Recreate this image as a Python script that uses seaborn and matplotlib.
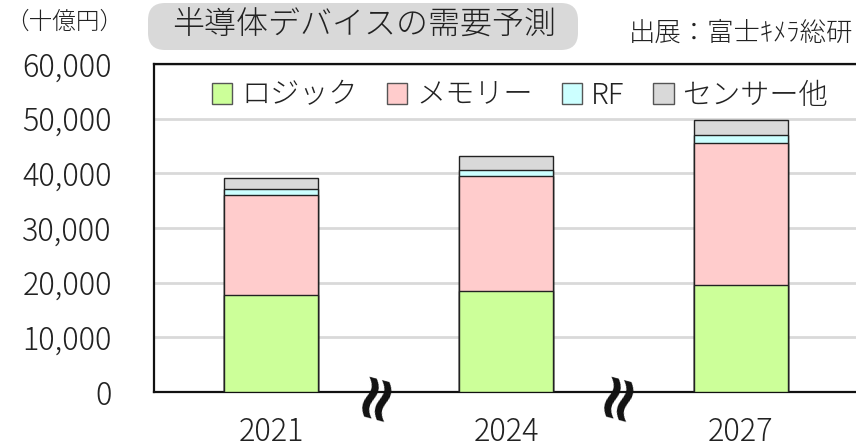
import matplotlib
matplotlib.use("Agg")
import matplotlib.pyplot as plt
from matplotlib.patches import Patch, FancyBboxPatch
import seaborn as sns
import pandas as pd
import numpy as np

years = ["2021", "2024", "2027"]
logic = [17800, 18500, 19600]
memory = [18300, 21000, 25900]
rf = [1050, 1150, 1450]
sensor = [2050, 2500, 2800]
series_names = ["ロジック", "メモリー", "RF", "センサー他"]
colors = ["#ccff99", "#ffcccc", "#ccffff", "#d9d9d9"]
yticks = [0, 10000, 20000, 30000, 40000, 50000, 60000]

sns.set_theme(style="white")
plt.rcParams['font.family'] = ['Noto Sans CJK JP', 'DejaVu Sans']
plt.rcParams['font.weight'] = 'light'

fig = plt.figure(figsize=(8.56, 4.48), dpi=100)
ax = fig.add_axes([153.5/856, 56/448, 705/856, 328/448])

layers = [logic, memory, rf, sensor]
cum = np.cumsum(np.array(layers), axis=0)
df = pd.DataFrame({"year": years})
for i in range(len(layers) - 1, -1, -1):
    df["v"] = cum[i]
    sns.barplot(data=df, x="year", y="v", color=colors[i], saturation=1,
                width=0.4, edgecolor="#222222", linewidth=1.0, ax=ax, zorder=3)

ax.set_xlim(-0.5, 2.5)
ax.set_ylim(0, 60000)
ax.set_yticks(yticks)
ax.set_yticklabels([f"{v:,}" for v in yticks])
ax.set_xlabel("")
ax.set_ylabel("")
ax.yaxis.grid(True, color="#d9d9d9", linewidth=2, zorder=0)
ax.set_axisbelow(True)
ax.tick_params(axis="y", length=0, pad=30, labelsize=22, colors="#222222")
ax.tick_params(axis="x", length=0, pad=17, labelsize=22, colors="#222222")
for s in ["left", "top", "bottom"]:
    ax.spines[s].set_color("#111111")
    ax.spines[s].set_linewidth(1.6)
ax.spines["right"].set_visible(False)

handles = [Patch(facecolor=c, edgecolor="#555555", linewidth=1.0) for c in colors]
leg = ax.legend(handles, series_names, loc="upper center", bbox_to_anchor=(0.52, 1.0),
                ncol=4, frameon=False, fontsize=21, handlelength=0.7, handleheight=0.7,
                handletextpad=0.3, columnspacing=1.0, borderaxespad=0.15)
for t in leg.get_texts():
    t.set_color("#222222")

# break marks on x axis
for xb in [0.44, 1.47]:
    ax.text(xb, -0.005, "≈", transform=ax.get_xaxis_transform(), rotation=75,
            ha="center", va="center", fontsize=46, fontweight="bold",
            family=["DejaVu Sans"], color="#111111", clip_on=False, zorder=5)

# title box
box = FancyBboxPatch((148/856, (448-50)/448), 430/856, 47/448,
                     boxstyle="round,pad=0,rounding_size=0.02",
                     transform=fig.transFigure, facecolor="#d9d9d9",
                     edgecolor="none", mutation_aspect=856/448)
fig.patches.append(box)
fig.text(364/856, 1 - 25/448, "半導体デバイスの需要予測", ha="center", va="center",
         fontsize=23, color="#222222")
fig.text(853/856, 1 - 33/448, "出展：富士ｷﾒﾗ総研", ha="right", va="center",
         fontsize=19, color="#222222")
fig.text(5/856, 1 - 22/448, "（十億円）", ha="left", va="center",
         fontsize=17, color="#222222")

fig.savefig("out.png", dpi=100)
